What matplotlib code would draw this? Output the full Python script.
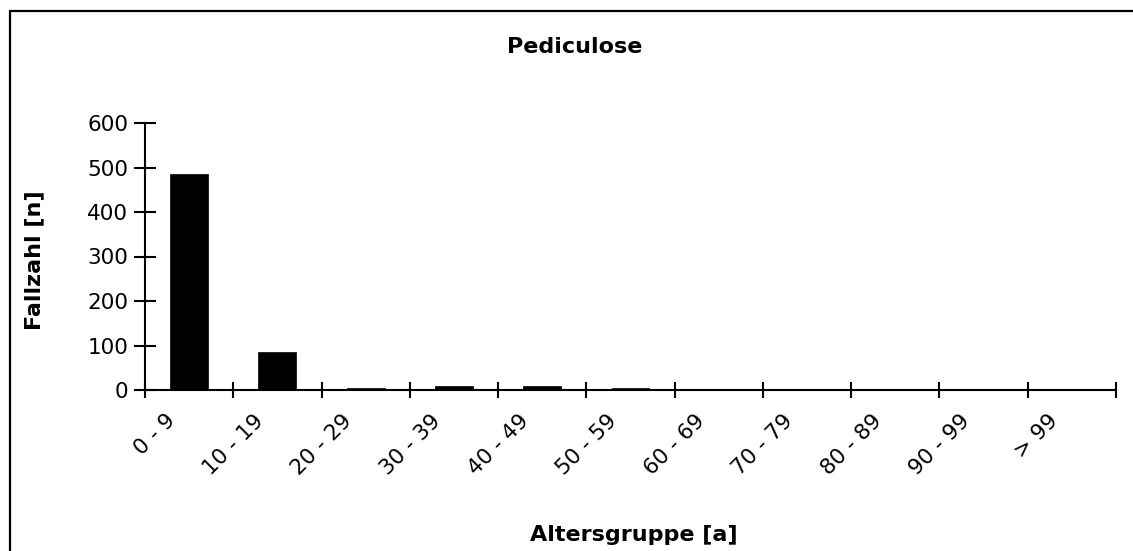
import matplotlib
matplotlib.use("Agg")
import matplotlib.pyplot as plt
from matplotlib.patches import Rectangle
import matplotlib.transforms as mtransforms
import numpy as np

categories = ["0 - 9", "10 - 19", "20 - 29", "30 - 39", "40 - 49", "50 - 59",
              "60 - 69", "70 - 79", "80 - 89", "90 - 99", "> 99"]
values = [486, 86, 4, 9, 9, 5, 0, 0, 0, 0, 0]
yticks = [0, 100, 200, 300, 400, 500, 600]

plt.rcParams['font.family'] = ['DejaVu Sans']

W, H = 1133, 551
fig = plt.figure(figsize=(W / 100, H / 100), dpi=100)
ax = fig.add_axes([145 / W, 1 - 390 / H, (1116 - 145) / W, (390 - 123) / H])

x = np.arange(len(categories))
ax.bar(x, values, width=0.43, color="black", edgecolor="black", linewidth=0.5)

ax.set_xlim(-0.5, len(categories) - 0.5)
ax.set_ylim(0, 600)
ax.set_yticks(yticks)
ax.set_yticklabels([str(v) for v in yticks], fontsize=15.5)
ax.set_xticks(np.arange(len(categories) + 1) - 0.5)
ax.set_xticklabels([])
ax.set_xticks(x, minor=True)
ax.set_xticklabels(categories, minor=True, rotation=45, ha="right", va="top",
                   rotation_mode="anchor", fontsize=15.5)
ax.tick_params(axis="x", which="minor", length=0, pad=12)
ax.tick_params(axis="x", which="major", direction="inout", length=12, width=1.5)
ax.tick_params(axis="y", direction="inout", length=16, width=1.5, pad=4)

offset = mtransforms.ScaledTranslation(-24 / 100, -4 / 100, fig.dpi_scale_trans)
for lbl in ax.get_xticklabels(minor=True):
    lbl.set_transform(lbl.get_transform() + offset)

for s in ["top", "right"]:
    ax.spines[s].set_visible(False)
for s in ["left", "bottom"]:
    ax.spines[s].set_linewidth(1.5)

fig.text(575 / W, 1 - 53 / H, "Pediculose", ha="center", va="baseline",
         fontsize=16, fontweight="bold")
fig.text(634 / W, 1 - 541 / H, "Altersgruppe [a]", ha="center", va="baseline",
         fontsize=16, fontweight="bold")
fig.text(34 / W, 1 - 260 / H, "Fallzahl [n]", ha="center", va="center",
         rotation=90, fontsize=16, fontweight="bold")

fig.patches.append(Rectangle((10.5 / W, -0.1), 1.2, 1 - 11 / H + 0.1,
                             transform=fig.transFigure, fill=False,
                             edgecolor="black", linewidth=1.6))

fig.savefig("out.png", dpi=100)
